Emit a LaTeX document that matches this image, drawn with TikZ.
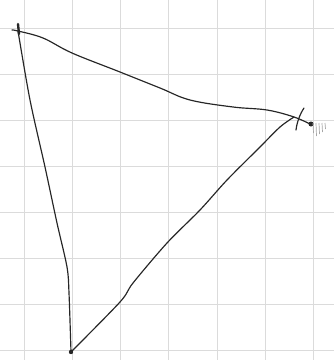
\documentclass[tikz,border=0pt]{standalone}
\usepackage{tikz}
\usetikzlibrary{calc}

\tikzset{
  pen/.style={line width=1pt, black!85, line cap=round, line join=round},
  gridline/.style={gray!28, line width=0.7pt}
}

\begin{document}
\begin{tikzpicture}[x=0.03cm,y=-0.03cm]
        \def\gx{48.3}
        \def\gy{46}
        \useasboundingbox (0,0) rectangle (334,360);
        %Grid paper
        \foreach \i in {0,...,6}
          \draw[gridline] (24+\i*\gx,0) -- (24+\i*\gx,360);
        \foreach \j in {0,...,7}
          \draw[gridline] (0,28+\j*\gy) -- (334,28+\j*\gy);
        \coordinate (A) at (18,31);
        \coordinate (B) at (294,117);
        \coordinate (C) at (71,352);
        \coordinate (tail) at (312,125);
        %Draw lines
        \draw[pen] plot[smooth, tension=0.6] coordinates {(12,30) (A) (43,38) (72,53) (120,72) (160,88) (190,100) (233,107) (267,110) (B) (tail)};
        \draw[pen] plot[smooth, tension=0.5] coordinates {(A) (30,100) (45,167) (57,223) (67,267) (69,293) (C)};
        \draw[pen] plot[smooth, tension=0.5] coordinates {(C) (120,302) (133,283) (167,243) (200,210) (227,180) (260,147) (280,127) (B)};
        %Marks
        \draw[pen, line width=2pt] (18,24) -- (19,34);
        \draw[pen] (304,108) .. controls (300,114) and (297,122) .. (296,130);
        \fill[black!85] (C) circle (2.2);
        \fill[black!85] (311,124) circle (2.5);
        \foreach \x/\l in {313/10, 316/13, 319/11, 322/9, 325/6}
          \draw[gray!70, line width=0.6pt] (\x,123) -- (\x+0.5,123+\l);
      \end{tikzpicture}
\end{document}
